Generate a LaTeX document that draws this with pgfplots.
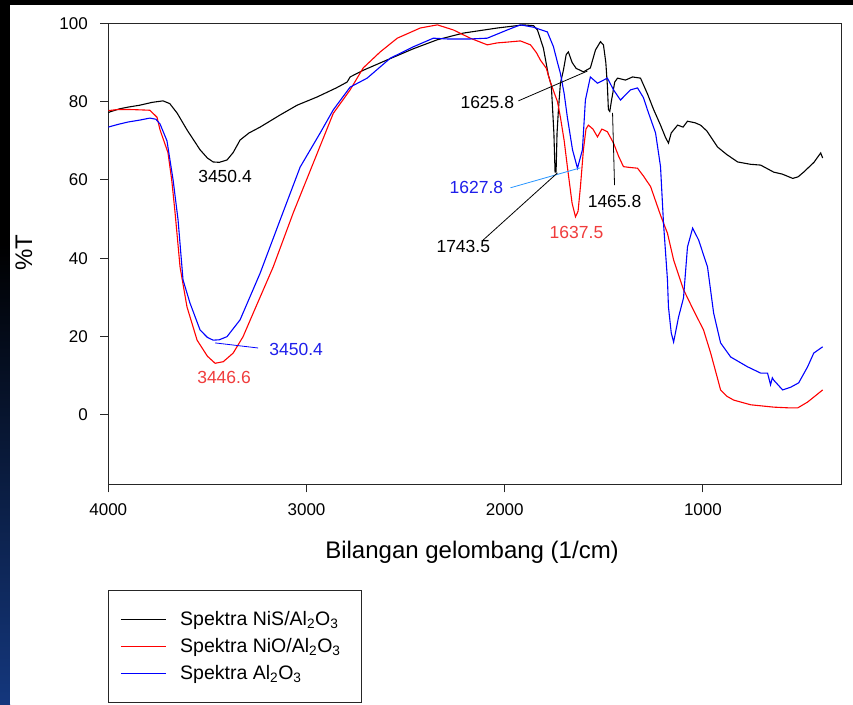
\documentclass[border=0pt]{standalone}
\usepackage{fontspec}
\setmainfont{Liberation Sans}
\usepackage{pgfplots}
\pgfplotsset{compat=1.18}
\definecolor{nblue}{RGB}{0,0,255}
\definecolor{nred}{RGB}{255,0,0}
\definecolor{lblue}{RGB}{40,150,255}
\definecolor{tred}{RGB}{240,60,60}
\definecolor{tblue}{RGB}{30,30,235}
\definecolor{edgeblue}{RGB}{20,55,125}

\begin{document}
\begin{tikzpicture}
% slide background
\fill[black] (0pt,0pt) rectangle (853pt,704pt);
\shade[top color=black, bottom color=edgeblue] (0pt,0pt) rectangle (10pt,460pt);
\fill[white] (10pt,0pt) rectangle (853pt,699pt);
\begin{axis}[
  at={(108.3pt,219.7pt)}, anchor=south west,
  scale only axis, width=733.4pt, height=461pt,
  x dir=reverse, xmin=300, xmax=4000, ymin=-17.7, ymax=100,
  xtick={1000,2000,3000,4000}, ytick={0,20,40,60,80,100},
  tick align=outside, tick pos=left, major tick length=8pt,
  axis line style={black!85, line width=1.2pt},
  tick style={black!85, line width=1pt},
  every tick label/.append style={font=\fontsize{17}{17}\selectfont},
  xticklabel style={yshift=-8pt},
  yticklabel style={xshift=-9pt},
  /pgf/number format/assume math mode=true,
  /pgf/number format/set thousands separator={},
  xlabel={Bilangan gelombang (1/cm)},
  ylabel={\%T},
  xlabel style={font=\fontsize{24}{24}\selectfont, at={(axis description cs:0.496,-0.148)}, anchor=center},
  ylabel style={font=\fontsize{24}{24}\selectfont, at={(axis description cs:-0.115,0.502)}, anchor=center},
  legend style={at={(axis description cs:0,-0.229)}, anchor=north west, draw=black!85, line width=1pt,
    font=\fontsize{19.5}{19.5}\selectfont, inner xsep=11.5pt, inner ysep=19pt, row sep=7.5pt,
    cells={anchor=west}, nodes={inner xsep=9.5pt}},
  legend image code/.code={\draw[#1, line width=1.3pt] (0pt,0pt) -- (45pt,0pt); \path (49pt,0pt);},
  legend cell align=left,
]
\addplot[black, line width=1.1pt] coordinates {
(4000,77.2)(3991,77.4)(3940,78.2)(3900,78.6)(3840,79.1)(3780,79.8)(3724,80.2)(3690,79.5)(3653,77.1)(3603,72.8)(3537,67.7)(3500,65.6)(3471,64.6)(3440,64.5)(3401,65.1)(3370,67.0)(3335,70.2)(3290,72.0)(3234,73.5)(3133,76.6)(3047,79.1)(2946,81.2)(2850,83.5)(2795,85.0)(2780,86.3)(2714,88.0)(2600,90.5)(2461,93.5)(2340,95.8)(2209,97.5)(2037,98.8)(1906,99.6)(1855,99.4)(1835,98.3)(1805,93.7)(1780,86.8)(1765,84.2)(1752,72)(1746,62)(1741,62)(1736,72)(1729,78)(1719,84.7)(1704,88)(1690,92)(1679,92.7)(1660,90)(1640,88.5)(1603,87.6)(1568,88.6)(1542,93.2)(1517,95.3)(1502,94.5)(1490,90)(1482,84)(1477,78)(1470,77.5)(1461,80.4)(1445,85)(1431,86)(1391,85.5)(1355,86.3)(1315,86)(1280,82)(1249,78)(1214,74)(1190,71)(1174,69.4)(1160,72)(1128,74)(1100,73.5)(1078,75)(1040,74.6)(1012,74)(980,72.5)(926,68.4)(880,66.5)(825,64.6)(760,64)(709,63.8)(643,62)(600,61.5)(547,60.4)(520,60.8)(492,62)(440,64.5)(406,66.9)(396,65.6)
};
\addlegendentry{Spektra NiS/Al\textsubscript{2}O\textsubscript{3}}
\addplot[nred, line width=1.1pt] coordinates {
(4000,77.7)(3950,78.0)(3900,78.0)(3840,77.9)(3790,77.8)(3754,76.0)(3739,72.8)(3699,67.0)(3680,60)(3663,51.6)(3638,37.8)(3603,27.6)(3552,19.1)(3500,15.0)(3461,13.2)(3420,13.6)(3370,15.8)(3320,20.0)(3269,26.0)(3168,37.8)(3067,51.6)(2966,64.3)(2865,77.0)(2780,83.0)(2714,88.6)(2628,92.7)(2542,96.2)(2426,98.8)(2340,99.6)(2259,98.3)(2174,96.2)(2088,94.5)(2037,95.0)(1987,95.2)(1921,95.5)(1870,94.5)(1840,92.5)(1820,90.6)(1790,88.5)(1770,85.0)(1734,80.0)(1719,76.0)(1700,70)(1684,63.4)(1660,54)(1643,50.6)(1630,52)(1618,58.3)(1603,67.7)(1590,73)(1578,74.0)(1555,73)(1532,71.0)(1510,73)(1482,72.3)(1451,69.4)(1425,66)(1401,63.4)(1370,63.2)(1330,63.0)(1300,61)(1264,58.3)(1214,51)(1179,46.4)(1148,39.6)(1098,32.0)(1050,27)(997,21.7)(961,15.8)(930,10.0)(911,6.4)(880,4.8)(845,3.8)(759,2.6)(643,2.0)(560,1.8)(522,1.8)(472,3.3)(430,5)(396,6.4)
};
\addlegendentry{Spektra NiO/Al\textsubscript{2}O\textsubscript{3}}
\addplot[nblue, line width=1.1pt, legend image post style={draw=nblue, line width=1.6pt}] coordinates {
(4000,73.5)(3950,74.2)(3900,74.8)(3840,75.3)(3790,75.8)(3760,75.5)(3739,74.3)(3704,70.0)(3673,60.0)(3648,49.8)(3623,34.5)(3588,28.6)(3537,21.7)(3500,19.8)(3471,19.1)(3440,19.2)(3401,20.0)(3335,24.3)(3234,36.2)(3133,49.8)(3032,63.3)(2931,72.0)(2865,77.9)(2780,83.7)(2694,86.0)(2577,91.1)(2461,94.0)(2360,96.2)(2290,96.0)(2174,96.0)(2088,96.2)(1987,98.3)(1921,99.6)(1855,99.0)(1785,97.8)(1754,94.0)(1734,90.0)(1719,87.2)(1700,82)(1684,76.0)(1658,67.7)(1633,63.0)(1608,67.7)(1593,80.4)(1568,86.3)(1532,84.7)(1482,86.0)(1451,83.0)(1416,80.4)(1366,83.0)(1330,83.5)(1300,81)(1280,77.9)(1239,72.0)(1214,63.4)(1199,49.0)(1179,34.5)(1174,27.6)(1160,21)(1148,18.6)(1123,25.0)(1098,29.9)(1078,42.9)(1052,47.7)(1022,44.7)(977,37.8)(946,26.0)(911,18.4)(860,14.8)(775,12.3)(709,10.7)(674,10.7)(659,7.7)(650,9.5)(643,8.9)(598,6.4)(557,7.1)(517,8.2)(472,12.3)(441,15.8)(396,17.4)
};
\addlegendentry{Spektra Al\textsubscript{2}O\textsubscript{3}}
% peak labels
\begin{scope}[every node/.style={font=\fontsize{17.5}{17.5}\selectfont, inner sep=1pt}]
\node[black] at (axis cs:3411,60.8) {3450.4};
\node[tred] at (axis cs:3416,9.7) {3446.6};
\node[tblue] at (axis cs:3052,16.6) {3450.4};
\draw[nblue, line width=0.8pt] (axis cs:3461,18.4) -- (axis cs:3244,17.1);
\node[black] at (axis cs:2088,79.9) {1625.8};
\draw[black, line width=0.8pt] (axis cs:1931,80.2) -- (axis cs:1583,87.8);
\node[tblue] at (axis cs:2143,58) {1627.8};
\draw[lblue, line width=0.8pt] (axis cs:1971,58) -- (axis cs:1618,63.1);
\node[black] at (axis cs:2209,42.9) {1743.5};
\draw[black, line width=0.8pt] (axis cs:2108,44.7) -- (axis cs:1734,61.8);
\node[tred] at (axis cs:1638,46.7) {1637.5};
\node[black] at (axis cs:1446,54.4) {1465.8};
\draw[black, line width=0.8pt] (axis cs:1456,77.1) -- (axis cs:1446,58.7);
\end{scope}
\end{axis}
\end{tikzpicture}
\end{document}
